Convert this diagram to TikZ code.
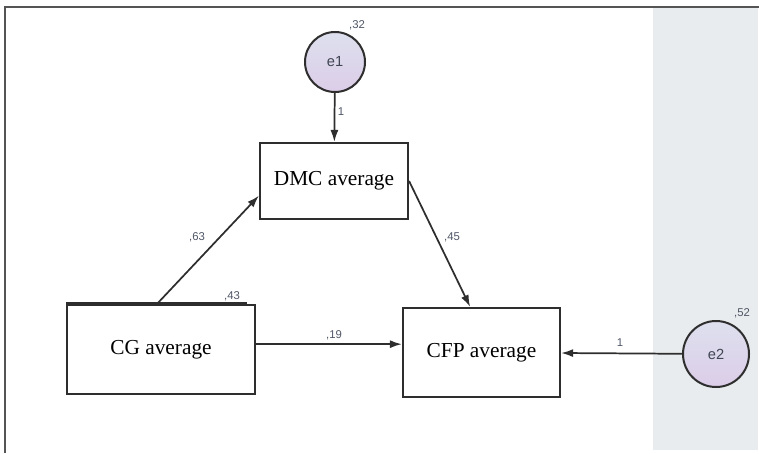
\documentclass[tikz,border=0pt]{standalone}
\usepackage{fontspec}
\setmainfont{Liberation Serif}
\setsansfont{Liberation Sans}
\usepackage{xcolor}
\usepackage{tikz}
\usetikzlibrary{arrows.meta,positioning,calc}
\definecolor{pathInk}{HTML}{2E2E2E}
\definecolor{pathLabel}{HTML}{4F5666}
\definecolor{errorTop}{HTML}{DDE0EE}
\definecolor{errorBottom}{HTML}{DCCDE8}
\definecolor{panelGrey}{HTML}{E8ECEE}
\definecolor{frameGrey}{HTML}{555555}
\tikzset{
  measure/.style={
    rectangle,
    draw=pathInk,
    fill=white,
    line width=1.6pt,
    align=center,
    font=\fontsize{16}{18}\selectfont
  },
  errorterm/.style={
    circle,
    draw=pathInk,
    top color=errorTop,
    bottom color=errorBottom,
    line width=1.5pt,
    inner sep=0pt,
    font=\sffamily\fontsize{11}{13}\selectfont\color{pathLabel!80!black}
  },
  arrow/.style={
    -{Latex[length=9pt,width=6pt]},
    line width=1.3pt,
    draw=pathInk
  },
  coeff/.style={
    inner sep=0pt,
    text=pathLabel,
    font=\sffamily\fontsize{8.5}{10}\selectfont
  }
}

\begin{document}
\begin{tikzpicture}[x=0.75pt,y=-0.75pt]
  \useasboundingbox (0,0) rectangle (759,453);
  % right-hand panel and frame
  \fill[panelGrey] (653,8) rectangle (758,450);
  \draw[frameGrey,line width=1.6pt] (759,7) -- (5,7) -- (5,453);

  \node[measure,minimum width=111pt,minimum height=57pt] (dmc) at (334,181) {DMC average};
  \node[measure,minimum width=141pt,minimum height=66.75pt] (cg) at (161,349.5) {CG average};
  \node[measure,minimum width=117.75pt,minimum height=66.75pt] (cfp) at (481.5,352.5) {CFP average};
  \node[errorterm,minimum size=45pt] (e1) at (335,62) {e1};
  \node[errorterm,minimum size=49.5pt] (e2) at (716,354) {e2};
  \draw[pathInk,line width=2.2pt] ([yshift=0.6pt]cg.north west) -- ++(181,0);

  \draw[arrow] (e1) -- (dmc);
  \draw[arrow] ([xshift=-3pt]cg.north) -- ([yshift=-11pt]dmc.west);
  \draw[arrow] (dmc.east) -- ([xshift=-8.5pt]cfp.north);
  \draw[arrow] ([yshift=4pt]cg.east) -- ([yshift=4pt]cg.east -| cfp.west);
  \draw[arrow] (e2) -- (cfp);

  % path coefficients
  \node[coeff] (v32) at (357,25) {,32};
  \node[coeff] (w1) at (341,112) {1};
  \node[coeff] (v63) at (197,237) {,63};
  \node[coeff] (v45) at (452,237) {,45};
  \node[coeff] (v43) at (232,296) {,43};
  \node[coeff] (v19) at (334,335) {,19};
  \node[coeff] (w2) at (620,343) {1};
  \node[coeff] (v52) at (742,313) {,52};
\end{tikzpicture}
\end{document}
